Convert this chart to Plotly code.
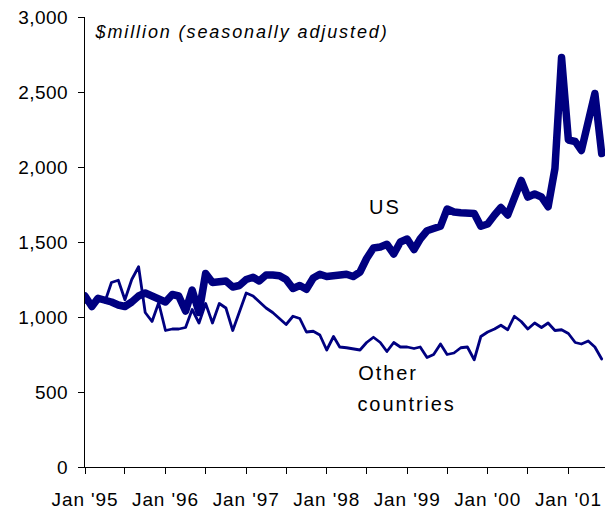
import pandas as pd
import plotly.graph_objects as go

# Monthly, Jan 1995 - Jun 2001, $million seasonally adjusted
months = pd.date_range("1995-01-01", periods=78, freq="MS")

us = [
    1140, 1070, 1125, 1115, 1100, 1080, 1070, 1100, 1140, 1160, 1140, 1110,
    1100, 1150, 1140, 1040, 1180, 1030, 1290, 1230, 1230, 1240, 1200, 1210,
    1250, 1265, 1240, 1280, 1280, 1275, 1250, 1190, 1210, 1185, 1260, 1285,
    1270, 1275, 1290, 1285, 1270, 1300, 1390, 1460, 1467, 1485, 1420, 1500,
    1520, 1450, 1520, 1575, 1590, 1605, 1720, 1700, 1695, 1693, 1690, 1605,
    1620, 1680, 1730, 1680, 1780, 1910, 1800, 1820, 1800, 1735, 1990, 2730,
    2180, 2170, 2110, 2290, 2490, 2090,
]

other = [
    1100, 1080, 1120, 1100, 1230, 1245, 1115, 1250, 1335, 1030, 970, 1095,
    910, 920, 920, 930, 1050, 960, 1090, 960, 1090, 1060, 910, 1040,
    1160, 1140, 1100, 1060, 1030, 990, 950, 1005, 990, 900, 905, 880,
    780, 870, 800, 795, 790, 780, 830, 865, 830, 770, 830, 800,
    800, 790, 800, 730, 750, 820, 750, 760, 795, 800, 715, 870,
    900, 920, 945, 915, 1005, 970, 920, 960, 930, 960, 910, 915,
    890, 830, 820, 840, 800, 720,
]

tick_dates = pd.date_range("1995-01-01", "2001-07-01", freq="6MS")
tick_labels = ["Jan '95", "", "Jan '96", "", "Jan '97", "", "Jan '98", "",
               "Jan '99", "", "Jan '00", "", "Jan '01", ""]

NAVY = "#000080"
FONT = "Liberation Sans, Arial, sans-serif"

fig = go.Figure()
fig.add_trace(go.Scatter(x=months, y=other, mode="lines", name="Other countries",
                         line=dict(color=NAVY, width=2.8), showlegend=False))
fig.add_trace(go.Scatter(x=months, y=us, mode="lines", name="US",
                         line=dict(color=NAVY, width=7.5), showlegend=False))

fig.update_layout(
    width=605, height=510,
    margin=dict(l=85, r=0, t=17, b=43, autoexpand=False),
    paper_bgcolor="white", plot_bgcolor="white",
    font=dict(family=FONT, size=19, color="black"),
    xaxis=dict(
        type="date",
        range=["1995-01-01", "2001-06-16"],
        tickvals=list(tick_dates), ticktext=tick_labels,
        ticks="outside", ticklen=6, tickcolor="black", tickwidth=1,
        showline=True, linecolor="black", linewidth=1,
        showgrid=False, zeroline=False, automargin=False,
        ticklabelstandoff=9,
        tickfont=dict(size=19),
    ),
    yaxis=dict(
        range=[0, 3000], dtick=500, tickformat=",",
        ticks="outside", ticklen=6, tickcolor="black", tickwidth=1,
        showline=True, linecolor="black", linewidth=1,
        showgrid=False, zeroline=False, automargin=False,
        ticklabelstandoff=6,
        tickfont=dict(size=19),
    ),
)

def px_to_paper(px, py):
    return (px - 85) / 520, (467 - py) / 450

for text, cx, cy, size in [
    ("<i>$million (seasonally adjusted)</i>", 241, 32, 18),
    ("US", 385, 207, 20),
    ("Other", 388, 373, 20),
    ("countries", 406, 404, 20),
]:
    ax, ay = px_to_paper(cx, cy)
    fig.add_annotation(x=ax, y=ay, xref="paper", yref="paper",
                       xanchor="center", yanchor="middle", align="center",
                       text=text, showarrow=False, font=dict(size=size))

# page without default body margin; loose letter spacing and round line joins as in the reference
css_js = """
var s = document.createElement('style');
s.textContent = 'html,body{margin:0;padding:0;overflow:hidden} '
  + '.annotation-text{letter-spacing:1.9px} .xtick text{letter-spacing:0.9px} .ytick text{letter-spacing:0.5px} '
  + '.scatterlayer path.js-line{stroke-linejoin:round;stroke-linecap:round}';
document.head.appendChild(s);
"""

fig.write_html("out.html", post_script=css_js, config={"displayModeBar": False})
